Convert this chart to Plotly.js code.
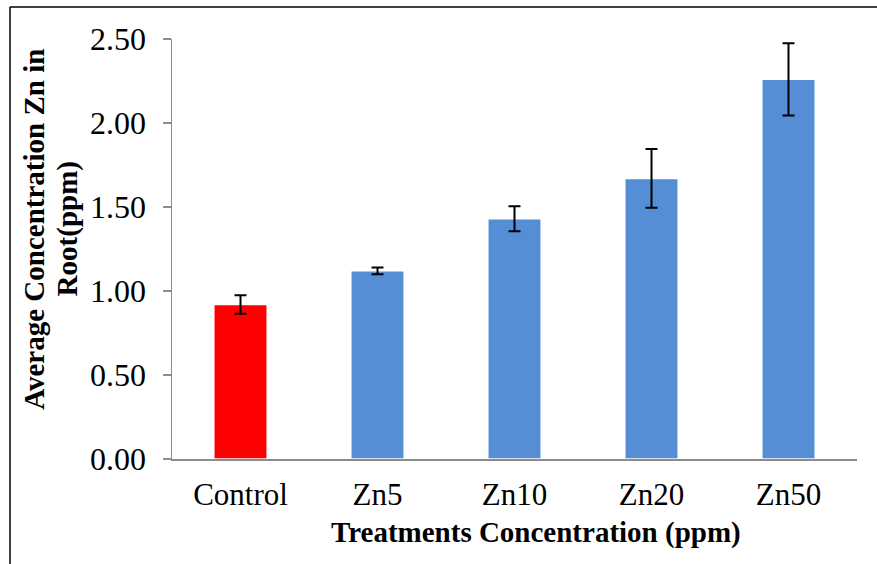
<!DOCTYPE html>
<html>
<head>
<meta charset="utf-8">
<script src="https://cdn.plot.ly/plotly-3.0.1.min.js"></script>
<style>html,body{margin:0;padding:0;background:#fff;}#chart{width:877px;height:564px;}</style>
</head>
<body>
<div id="chart"></div>
<script>
var categories = ["Control", "Zn5", "Zn10", "Zn20", "Zn50"];
var values = [0.92, 1.12, 1.43, 1.67, 2.26];
var errors = [0.055, 0.02, 0.075, 0.175, 0.215];
var barColors = ["#FF0000", "#558ED5", "#558ED5", "#558ED5", "#558ED5"];
var yTickVals = [0, 0.5, 1.0, 1.5, 2.0, 2.5];
var yTickText = ["0.00", "0.50", "1.00", "1.50", "2.00", "2.50"];
var xTitle = "Treatments Concentration (ppm)";
var yTitleLine1 = "Average Concentration Zn in";
var yTitleLine2 = "Root(ppm)";

var serif = "'Liberation Serif'";

var trace = {
  type: "bar",
  x: categories,
  y: values,
  marker: {color: barColors, line: {color: "#ffffff", width: 1.5}},
  error_y: {type: "data", array: errors, visible: true, color: "#000000", thickness: 2, width: 6},
  hoverinfo: "none"
};

var layout = {
  width: 877, height: 564,
  margin: {l: 172, r: 20, t: 39, b: 105},
  paper_bgcolor: "#ffffff", plot_bgcolor: "#ffffff",
  bargap: 0.61,
  showlegend: false,
  font: {family: serif, color: "#000000", size: 31},
  xaxis: {
    showline: true, linecolor: "#8c8c8c", linewidth: 2,
    ticks: "", tickfont: {family: serif, size: 31, color: "#000"},
    ticklabelstandoff: 7,
    automargin: false, fixedrange: true
  },
  yaxis: {
    range: [0, 2.5], tickvals: yTickVals, ticktext: yTickText,
    showline: true, linecolor: "#8c8c8c", linewidth: 1.5,
    ticks: "outside", ticklen: 8, tickcolor: "#8c8c8c", tickwidth: 1.5,
    ticklabelstandoff: 10,
    showgrid: false, zeroline: false,
    tickfont: {family: serif, size: 32, color: "#000"},
    automargin: false, fixedrange: true
  },
  annotations: [
    {text: "<b>" + xTitle + "</b>", xref: "paper", yref: "paper", x: 0.531, y: -0.174,
     xanchor: "center", yanchor: "middle", showarrow: false,
     font: {family: serif, size: 29, color: "#000"}},
    {text: "<b>" + yTitleLine1 + "</b>", xref: "paper", yref: "paper", x: -0.2015, y: 0.548,
     xanchor: "center", yanchor: "middle", textangle: -90, showarrow: false,
     font: {family: serif, size: 29, color: "#000"}},
    {text: "<b>" + yTitleLine2 + "</b>", xref: "paper", yref: "paper", x: -0.1525, y: 0.548,
     xanchor: "center", yanchor: "middle", textangle: -90, showarrow: false,
     font: {family: serif, size: 29, color: "#000"}}
  ],
  shapes: [
    {type: "line", xref: "paper", yref: "paper", x0: -0.2365, x1: 1.03, y0: 1.076, y1: 1.076, line: {color: "#000", width: 1.5}},
    {type: "line", xref: "paper", yref: "paper", x0: -0.2365, x1: -0.2365, y0: 1.076, y1: -0.26, line: {color: "#000", width: 1.5}}
  ]
};

Plotly.newPlot("chart", [trace], layout, {displayModeBar: false, staticPlot: true});
</script>
</body>
</html>
